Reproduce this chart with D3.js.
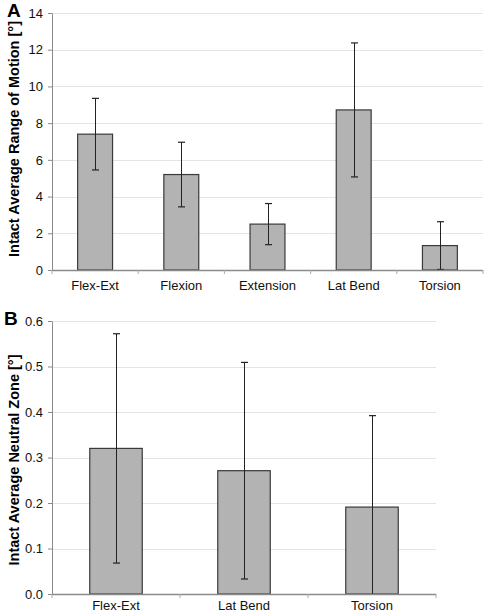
<!DOCTYPE html>
<html><head><meta charset="utf-8">
<script src="https://cdn.jsdelivr.net/npm/d3@7"></script>
<style>body{margin:0;background:#fff}svg{display:block}</style>
</head><body>
<svg id="c" width="484" height="614"></svg>
<script>
const catsA = ["Flex-Ext","Flexion","Extension","Lat Bend","Torsion"];
const meanA = [7.4, 5.2, 2.5, 8.72, 1.33];
const sdA   = [1.95, 1.76, 1.12, 3.65, 1.3];
const ticksA = [0,2,4,6,8,10,12,14];

const catsB = ["Flex-Ext","Lat Bend","Torsion"];
const meanB = [0.32, 0.271, 0.191];
const sdB   = [0.252, 0.238, 0.201];
const ticksB = [0,0.1,0.2,0.3,0.4,0.5,0.6];

const svg = d3.select("#c");
const font = "Liberation Sans, Arial, sans-serif";

function panel(o){
  const g = svg.append("g");
  const x = d3.scaleBand().domain(o.cats).range([o.x0,o.x1]).paddingInner(0).paddingOuter(0);
  const y = d3.scaleLinear().domain([0,o.max]).range([o.y0,o.y1]);
  // grid
  g.selectAll(".grid").data(o.ticks.filter(t=>t>0)).join("line")
    .attr("x1",o.x0).attr("x2",o.x1)
    .attr("y1",d=>Math.round(y(d))+0.5).attr("y2",d=>Math.round(y(d))+0.5)
    .attr("stroke","#e4e4e4").attr("stroke-width",1);
  // bars
  const bw = x.bandwidth()*o.bw;
  g.selectAll(".bar").data(o.cats).join("rect")
    .attr("x",d=>x(d)+(x.bandwidth()-bw)/2)
    .attr("y",(d,i)=>y(o.mean[i]))
    .attr("width",bw)
    .attr("height",(d,i)=>y(0)-y(o.mean[i]))
    .attr("fill","#b3b3b3").attr("stroke","#3a3a3a").attr("stroke-width",1.2);
  // error bars
  o.cats.forEach((c,i)=>{
    const cx = Math.round(x(c)+x.bandwidth()/2)+0.5;
    const hi = o.mean[i]+o.sd[i];
    const loRaw = o.mean[i]-o.sd[i];
    const lo = Math.max(0,loRaw);
    g.append("line").attr("x1",cx).attr("x2",cx).attr("y1",y(hi)).attr("y2",y(lo))
      .attr("stroke","#222").attr("stroke-width",1);
    g.append("line").attr("x1",cx-3.5).attr("x2",cx+3.5).attr("y1",y(hi)).attr("y2",y(hi))
      .attr("stroke","#222").attr("stroke-width",1.2);
    if(loRaw>=0){
      g.append("line").attr("x1",cx-3.5).attr("x2",cx+3.5).attr("y1",y(lo)).attr("y2",y(lo))
        .attr("stroke","#222").attr("stroke-width",1.2);
    }
  });
  // y axis
  const ya = g.append("g").attr("transform",`translate(${o.x0},0)`)
    .call(d3.axisLeft(y).tickValues(o.ticks).tickSize(4).tickSizeOuter(0).tickPadding(5).tickFormat(o.fmt));
  ya.select(".domain").attr("stroke","#8a8a8a");
  ya.selectAll(".tick line").attr("stroke","#8a8a8a");
  ya.selectAll("text").attr("font-family",font).attr("font-size",13).attr("fill","#111");
  // x axis
  const xa = g.append("g").attr("transform",`translate(0,${o.y0})`);
  xa.append("line").attr("x1",o.x0).attr("x2",o.x1).attr("y1",0.5).attr("y2",0.5).attr("stroke","#8a8a8a").attr("stroke-width",1.3);
  xa.selectAll(".xt").data(o.cats).join("line")
    .attr("x1",d=>x(d)+x.bandwidth()).attr("x2",d=>x(d)+x.bandwidth())
    .attr("y1",0).attr("y2",4).attr("stroke","#aaa");
  xa.append("line").attr("x1",o.x0).attr("x2",o.x0).attr("y1",0).attr("y2",4).attr("stroke","#aaa");
  g.selectAll(".xl").data(o.cats).join("text").attr("class","xl")
    .attr("x",d=>x(d)+x.bandwidth()/2).attr("y",o.labY)
    .attr("text-anchor","middle").attr("font-family",font).attr("font-size",13).attr("fill","#111")
    .text(d=>d);
  // y title
  g.append("text").attr("transform",`translate(${o.titleX},${o.titleY}) rotate(-90)`)
    .attr("text-anchor","middle").attr("font-family",font).attr("font-size",14.5).attr("font-weight","bold")
    .attr("fill","#000").text(o.title);
  // panel letter
  g.append("text").attr("x",o.letterX).attr("y",o.letterY).attr("font-family",font)
    .attr("font-size",19).attr("font-weight","bold").attr("fill","#000").text(o.letter);
}

panel({cats:catsA, mean:meanA, sd:sdA, ticks:ticksA, max:14, x0:52, x1:483, y0:270, y1:13, bw:0.405,
  fmt:d3.format("d"), labY:290, title:"Intact Average Range of Motion [°]", titleX:19, titleY:139,
  letter:"A", letterX:7, letterY:17});
panel({cats:catsB, mean:meanB, sd:sdB, ticks:ticksB, max:0.6, x0:52, x1:436, y0:594, y1:321, bw:0.41,
  fmt:d3.format(".1f"), labY:610, title:"Intact Average Neutral Zone [°]", titleX:19, titleY:460,
  letter:"B", letterX:4, letterY:325});
</script>
</body></html>
